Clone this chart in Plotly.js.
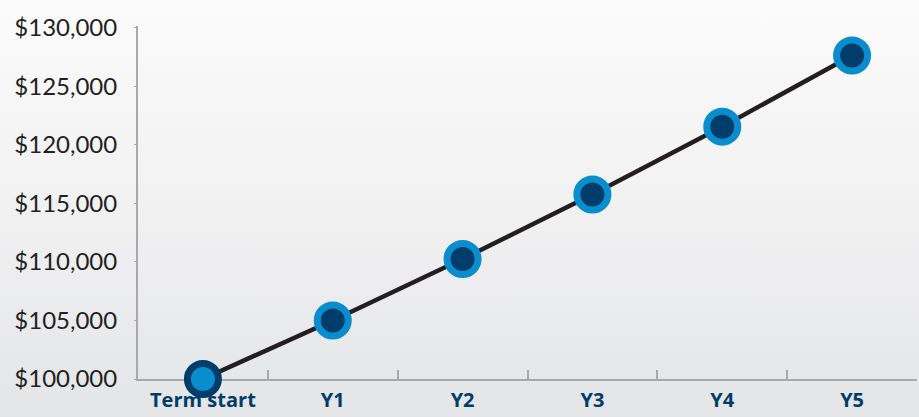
<!DOCTYPE html>
<html>
<head>
<meta charset="utf-8">
<script src="https://cdn.plot.ly/plotly-3.0.1.min.js"></script>
<style>
  html, body { margin: 0; padding: 0; }
  body { width: 919px; height: 417px; overflow: hidden;
         background: linear-gradient(to bottom, #fbfbfb 0%, #f1f1f2 50%, #e4e5e7 100%); }
  #chart { width: 919px; height: 417px; }
</style>
</head>
<body>
<div id="chart"></div>
<script>
const categories = ["Term start", "Y1", "Y2", "Y3", "Y4", "Y5"];
const values = [100000, 105000, 110250, 115763, 121551, 127628];
const yTickValues = [100000, 105000, 110000, 115000, 120000, 125000, 130000];

const lightBlue = "#0a8dcc";
const navy = "#003d6b";
const fillColors = categories.map((c, i) => i === 0 ? lightBlue : navy);
const ringColors = categories.map((c, i) => i === 0 ? navy : lightBlue);

const traces = [
  {
    x: categories, y: values, type: "scatter", mode: "lines",
    line: { color: "#231f20", width: 4.5 },
    hoverinfo: "skip", cliponaxis: false
  },
  {
    x: categories, y: values, type: "scatter", mode: "markers",
    marker: { size: 31, color: fillColors, line: { color: ringColors, width: 7 } },
    cliponaxis: false
  }
];

const layout = {
  width: 919, height: 417,
  margin: { l: 138, r: 2, t: 26, b: 38 },
  paper_bgcolor: "rgba(0,0,0,0)",
  plot_bgcolor: "rgba(0,0,0,0)",
  showlegend: false,
  xaxis: {
    type: "category",
    range: [-0.5, 5.5],
    showgrid: false, zeroline: false,
    showline: true, linecolor: "#a9a9a9", linewidth: 2,
    ticks: "inside", tickson: "boundaries", ticklen: 9, tickcolor: "#a9a9a9", tickwidth: 2,
    tickfont: { family: "Open Sans, sans-serif", size: 20, color: "#003d6b", weight: 700 },
    ticklabelstandoff: 2,
    layer: "below traces"
  },
  yaxis: {
    range: [100000, 130150],
    tickvals: yTickValues,
    tickformat: "$,.0f",
    showgrid: false, zeroline: false,
    showline: true, linecolor: "#a9a9a9", linewidth: 2,
    ticks: "outside", ticklen: 2, tickcolor: "#a9a9a9", tickwidth: 1,
    tickfont: { family: "Lato, sans-serif", size: 24, color: "#231f20" },
    ticklabelstandoff: 12,
    layer: "below traces"
  }
};

Plotly.newPlot("chart", traces, layout, { displayModeBar: false, staticPlot: true });
</script>
</body>
</html>
